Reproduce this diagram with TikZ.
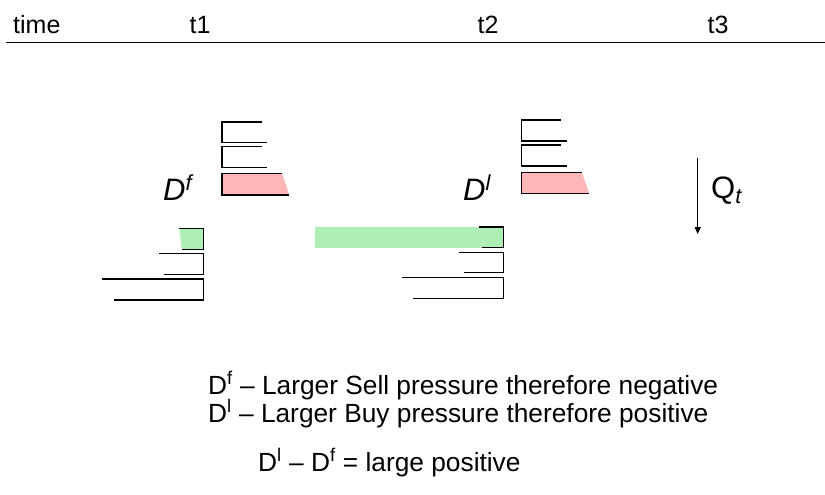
\documentclass[tikz,border=0pt]{standalone}
\usepackage{fontspec}
\setmainfont{Liberation Sans}
\usetikzlibrary{arrows.meta}
\definecolor{sellpink}{RGB}{255,182,182}
\definecolor{buygreen}{RGB}{176,238,184}
\begin{document}
\begin{tikzpicture}[x=1pt,y=-1pt,
  edge/.style={line width=1.2pt,black},
  lbl/.style={inner sep=0pt,anchor=base west,font=\fontsize{26.3}{30}\selectfont},
  toplbl/.style={inner sep=0pt,anchor=base,font=\fontsize{25}{30}\selectfont},
  biglbl/.style={inner sep=0pt,anchor=base west,font=\fontsize{31}{36}\selectfont}]
\useasboundingbox (0,0) rectangle (825,495);
% time axis
\draw[edge] (6,42.5) coordinate (axl) -- (825,42.5) coordinate (axr);
\node[toplbl,anchor=base west] (time) at (13,34) {time};
\node[toplbl] (t1) at (200,34) {t1};
\node[toplbl] (t2) at (488,34) {t2};
\node[toplbl] (t3) at (718,34) {t3};
% ---- book at t1 ----
% sell side
\draw[edge] (262,122) -- (222,122) -- (222,142.3) -- (267,142.3);
\draw[edge] (262,146.7) -- (222,146.7) -- (222,167.7) -- (267,167.7);
\fill[sellpink] (222,173.3) -- (282,173.3) -- (289.3,195) -- (222,195) -- cycle;
\draw[edge] (282,173.3) -- (222,173.3) -- (222,195) -- (289.3,195);
% buy side
\fill[buygreen] (179.3,228.3) -- (203.7,228.3) -- (203.7,249.3) -- (181.7,249.3) -- cycle;
\draw[edge] (179.3,228.3) -- (203.7,228.3) -- (203.7,249.3) -- (181.7,249.3);
\draw[edge] (159,253.7) -- (203.7,253.7) -- (203.7,274.3) -- (164,274.3);
\draw[edge] (102.3,279) -- (203.7,279) -- (203.7,300) -- (114,300);
\node[biglbl] (Df) at (163,200) {\itshape D\textsuperscript{f}};
% ---- book at t2 ----
\draw[edge] (561,120) -- (521.7,120) -- (521.7,141) -- (566.7,141);
\draw[edge] (561,145) -- (521.7,145) -- (521.7,166) -- (566.7,166);
\fill[sellpink] (521.7,172.3) -- (581.7,172.3) -- (589.3,193.3) -- (521.7,193.3) -- cycle;
\draw[edge] (581.7,172.3) -- (521.7,172.3) -- (521.7,193.3) -- (589.3,193.3);
\fill[buygreen] (315,227) rectangle (503.3,247.7);
\draw[edge] (479,227) -- (503.3,227) -- (503.3,247.7) -- (481.7,247.7);
\draw[edge] (459,252.3) -- (503.3,252.3) -- (503.3,272.7) -- (464,272.7);
\draw[edge] (402.3,277.3) -- (503.3,277.3) -- (503.3,298.3) -- (413.3,298.3);
\node[biglbl] (Dl) at (463,200) {\itshape D\textsuperscript{l}};
% Q_t arrow
\coordinate (qa) at (697.7,158.3);
\coordinate (qb) at (697.7,234);
\draw[line width=1.2pt,-{Triangle[length=7pt,width=6pt]}] (qa) -- (qb);
\node[biglbl] (Qt) at (711,198) {Q\textsubscript{\itshape t}};
% explanation
\node[lbl] (e1) at (208,394) {D\textsuperscript{f} – Larger Sell pressure therefore negative};
\node[lbl] (e2) at (208,422) {D\textsuperscript{l} – Larger Buy pressure therefore positive};
\node[lbl] (e3) at (258,471) {D\textsuperscript{l} – D\textsuperscript{f} = large positive};
\end{tikzpicture}
\end{document}
